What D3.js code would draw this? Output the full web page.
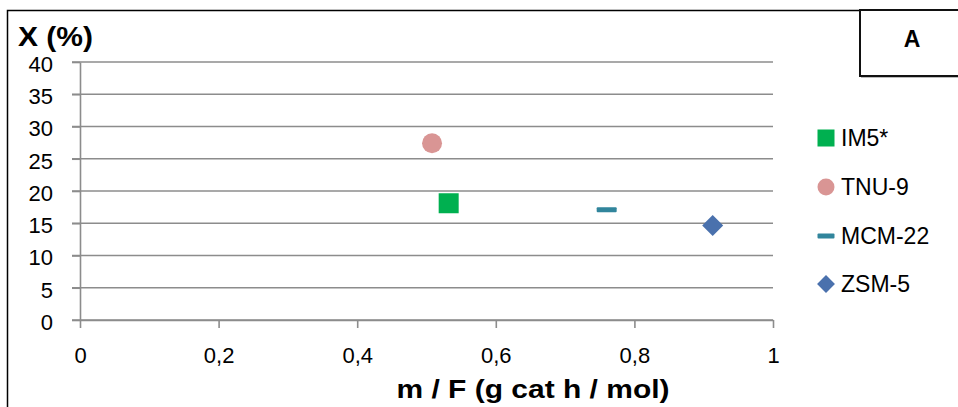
<!DOCTYPE html>
<html><head><meta charset="utf-8">
<script src="https://cdn.jsdelivr.net/npm/d3@7"></script>
<style>html,body{margin:0;padding:0;background:#fff;}svg{display:block;}</style>
</head><body>
<svg id="chart" width="958" height="407"></svg>
<script>
const seriesNames = ["IM5*", "TNU-9", "MCM-22", "ZSM-5"];
const xValues = [0.532, 0.508, 0.760, 0.913];
const yValues = [18.1, 27.4, 17.1, 14.65];
const colors = ["#00b050", "#d99594", "#31859c", "#4a71ad"];
const shapes = ["square", "circle", "dash", "diamond"];
const xTicks = [0, 0.2, 0.4, 0.6, 0.8, 1];
const yTicks = [0, 5, 10, 15, 20, 25, 30, 35, 40];
const xTitle = "m / F (g cat h / mol)";
const yTitle = "X (%)";
const panelLabel = "A";

const svg = d3.select("#chart");
const font = "'Liberation Sans', Arial, sans-serif";
const x = d3.scaleLinear().domain([0, 1]).range([80, 773]);
const y = d3.scaleLinear().domain([0, 40]).range([320, 62]);
const grid = "#8c8c8c";

// outer frame
svg.append("path").attr("d", "M7.5,407 V10.5 H860").attr("fill", "none").attr("stroke", "#000").attr("stroke-width", 1.5);
// panel label box
svg.append("rect").attr("x", 861).attr("y", 12).attr("width", 110).attr("height", 66).attr("fill", "#bbb");
svg.append("rect").attr("x", 860).attr("y", 10).attr("width", 110).attr("height", 66).attr("fill", "#fff").attr("stroke", "#111").attr("stroke-width", 2);
svg.append("text").attr("x", 912).attr("y", 47).attr("text-anchor", "middle").attr("font-family", font).attr("font-weight", "bold").attr("font-size", 23).text(panelLabel);

// gridlines
svg.append("g").selectAll("line").data(yTicks).join("line")
  .attr("x1", 72).attr("x2", 773).attr("y1", d => y(d)).attr("y2", d => y(d))
  .attr("stroke", grid).attr("stroke-width", 1.6);

// axes
const xAxis = d3.axisBottom(x).tickValues(xTicks).tickSize(8).tickSizeOuter(0)
  .tickFormat(d => String(d).replace(".", ","));
const gx = svg.append("g").attr("transform", "translate(0,320)").call(xAxis);
gx.select(".domain").attr("stroke", grid).attr("stroke-width", 1.6);
gx.selectAll(".tick line").attr("stroke", grid).attr("stroke-width", 1.6);
gx.selectAll(".tick text").attr("font-family", font).attr("font-size", 22).attr("fill", "#000").attr("dy", "0").attr("y", 43);

const yAxis = d3.axisLeft(y).tickValues(yTicks).tickSize(8).tickSizeOuter(0);
const gy = svg.append("g").attr("transform", "translate(80,0)").call(yAxis);
gy.select(".domain").attr("stroke", grid).attr("stroke-width", 1.6);
gy.selectAll(".tick line").attr("stroke", grid).attr("stroke-width", 1.6);
gy.selectAll(".tick text").attr("font-family", font).attr("font-size", 22).attr("fill", "#000").attr("x", -27).attr("dy", "0.42em");

// titles
svg.append("text").attr("x", 533).attr("y", 398).attr("text-anchor", "middle")
  .attr("font-family", font).attr("font-weight", "900").attr("font-size", 26)
  .attr("textLength", 273).attr("lengthAdjust", "spacingAndGlyphs").text(xTitle);
svg.append("text").attr("x", 18).attr("y", 46)
  .attr("font-family", font).attr("font-weight", "900").attr("font-size", 27)
  .attr("textLength", 75).attr("lengthAdjust", "spacingAndGlyphs").text(yTitle);

function marker(g, shape, color, size) {
  const h = size / 2;
  if (shape === "square") g.append("rect").attr("x", -h).attr("y", -h).attr("width", size).attr("height", size).attr("fill", color);
  else if (shape === "circle") g.append("circle").attr("r", h).attr("fill", color);
  else if (shape === "dash") g.append("rect").attr("x", -h).attr("y", -2.5).attr("width", size).attr("height", 5).attr("rx", 1).attr("fill", color);
  else if (shape === "diamond") g.append("path").attr("d", `M0,${-h*1.05} L${h*1.05},0 L0,${h*1.05} L${-h*1.05},0Z`).attr("fill", color);
}

// points
const data = seriesNames.map((n, i) => ({ name: n, x: xValues[i], y: yValues[i], color: colors[i], shape: shapes[i] }));
data.forEach(d => {
  const g = svg.append("g").attr("transform", `translate(${x(d.x)},${y(d.y)})`);
  marker(g, d.shape, d.color, 20);
});

// legend
const legendY = [138, 187, 236, 284];
data.forEach((d, i) => {
  const g = svg.append("g").attr("transform", `translate(826,${legendY[i]})`);
  marker(g, d.shape, d.color, 17);
  g.append("text").attr("x", 15).attr("dy", "0.36em").attr("font-family", font).attr("font-size", 23).attr("fill", "#000").text(d.name);
});
</script>
</body></html>
